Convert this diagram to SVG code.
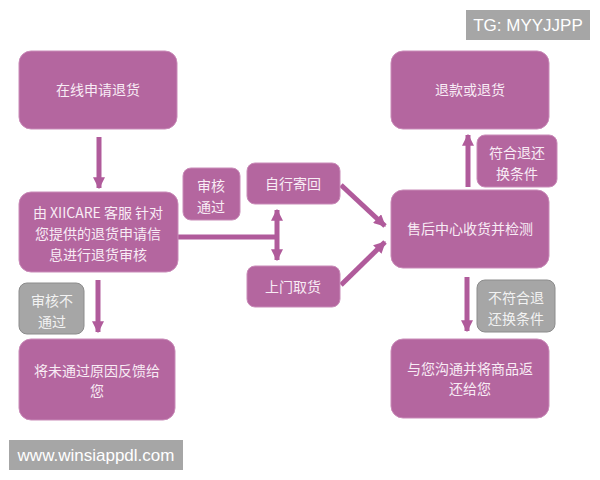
<svg xmlns="http://www.w3.org/2000/svg" width="600" height="480" viewBox="0 0 600 480">
<defs>
<style>
.box{fill:#b4669f;stroke:#c98bb8;stroke-width:1}
.gbox{fill:#a6a6a6;stroke:#8c8c8c;stroke-width:1}
.t{font-family:"Noto Sans CJK SC","Liberation Sans",sans-serif;font-size:14px;fill:#f8ecf5;text-anchor:middle}
.gt{font-family:"Noto Sans CJK SC","Liberation Sans",sans-serif;font-size:14px;fill:#f2f2f2;text-anchor:middle}
.wm{font-family:"Liberation Sans",Arial,sans-serif;font-size:17px;fill:#ffffff}
.ln{stroke:#b05b9b;stroke-width:5;fill:none}
</style>
<marker id="ah" viewBox="0 0 10 10" refX="9" refY="5" markerWidth="2.4" markerHeight="2.4" orient="auto-start-reverse" markerUnits="strokeWidth">
<path d="M0,0 L10,5 L0,10 Z" fill="#b05b9b"/>
</marker>
</defs>
<rect width="600" height="480" fill="#ffffff"/>

<g id="connectors">
<line class="ln" x1="99" y1="137" x2="99" y2="188" marker-end="url(#ah)"/>
<polyline class="ln" points="178,237 277,237"/>
<line class="ln" x1="277" y1="210" x2="277" y2="260" marker-start="url(#ah)" marker-end="url(#ah)"/>
<line class="ln" x1="341" y1="185" x2="385" y2="226" marker-end="url(#ah)"/>
<line class="ln" x1="341" y1="285" x2="385" y2="242" marker-end="url(#ah)"/>
<line class="ln" x1="468" y1="187" x2="468" y2="135" marker-end="url(#ah)"/>
<line class="ln" x1="467" y1="277" x2="467" y2="331" marker-end="url(#ah)"/>
<line class="ln" x1="98" y1="280" x2="98" y2="332" marker-end="url(#ah)"/>
</g>

<g id="n-apply">
<rect class="box" x="19" y="51" width="158" height="78" rx="12"/>
<text class="t" x="98" y="95">在线申请退货</text>
</g>
<g id="n-review">
<rect class="box" x="19" y="192" width="159" height="80" rx="12"/>
<text class="t" x="98" y="218">由 XIICARE 客服  针对</text>
<text class="t" x="98" y="239">您提供的退货申请信</text>
<text class="t" x="98" y="260">息进行退货审核</text>
</g>
<g id="n-pass">
<rect class="box" x="183" y="168" width="57" height="52" rx="8"/>
<text class="t" x="211" y="191">审核</text>
<text class="t" x="211" y="212">通过</text>
</g>
<g id="n-self">
<rect class="box" x="247" y="163" width="93" height="41" rx="8"/>
<text class="t" x="293" y="189">自行寄回</text>
</g>
<g id="n-pickup">
<rect class="box" x="247" y="266" width="93" height="41" rx="8"/>
<text class="t" x="293" y="292">上门取货</text>
</g>
<g id="n-center">
<rect class="box" x="391" y="190" width="158" height="78" rx="12"/>
<text class="t" x="470" y="234">售后中心收货并检测</text>
</g>
<g id="n-refund">
<rect class="box" x="391" y="51" width="158" height="78" rx="12"/>
<text class="t" x="470" y="95">退款或退货</text>
</g>
<g id="n-meet">
<rect class="box" x="477" y="135" width="80" height="52" rx="8"/>
<text class="t" x="517" y="158">符合退还</text>
<text class="t" x="517" y="179">换条件</text>
</g>
<g id="n-notmeet">
<rect class="gbox" x="477" y="280" width="78" height="52" rx="8"/>
<text class="gt" x="516" y="303">不符合退</text>
<text class="gt" x="516" y="324">还换条件</text>
</g>
<g id="n-fail">
<rect class="gbox" x="19" y="283" width="65" height="51" rx="8"/>
<text class="gt" x="52" y="306">审核不</text>
<text class="gt" x="52" y="327">通过</text>
</g>
<g id="n-feedback">
<rect class="box" x="19" y="339" width="156" height="81" rx="12"/>
<text class="t" x="97" y="376">将未通过原因反馈给</text>
<text class="t" x="97" y="396">您</text>
</g>
<g id="n-return">
<rect class="box" x="391" y="339" width="158" height="79" rx="12"/>
<text class="t" x="470" y="374">与您沟通并将商品返</text>
<text class="t" x="470" y="394">还给您</text>
</g>

<g id="watermarks">
<rect x="466" y="10" width="124" height="30" fill="#a6a6a6"/>
<text class="wm" x="528" y="31" text-anchor="middle">TG: MYYJJPP</text>
<rect x="9" y="440" width="174" height="30" fill="#a6a6a6"/>
<text class="wm" x="96" y="461" text-anchor="middle">www.winsiappdl.com</text>
</g>
</svg>
